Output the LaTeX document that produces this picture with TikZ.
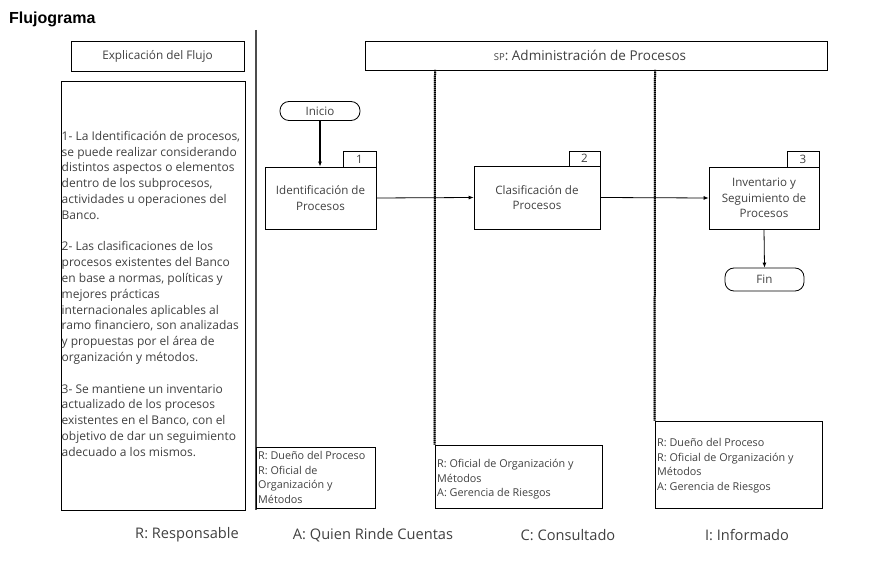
\documentclass[tikz,border=0pt]{standalone}
\usepackage{fontspec}
\setmainfont{Open Sans}
\newfontfamily\titlefont{Liberation Sans}
\usetikzlibrary{arrows.meta}
\definecolor{txt}{HTML}{404040}
\begin{document}
\begin{tikzpicture}[x=1pt,y=-1pt,
  box/.style={draw=black, line width=0.8pt, rectangle, inner sep=0pt, text=txt},
  procbox/.style={box, align=center, font=\fontsize{11.6}{15.5}\selectfont},
  numbox/.style={box, font=\fontsize{11.6}{12}\selectfont},
  term/.style={draw=black, line width=0.8pt, rounded corners=9pt, inner sep=0pt, text=txt, font=\fontsize{11.6}{12}\selectfont},
  lanetxt/.style={anchor=north west, inner sep=0pt, align=left, text=txt, font=\fontsize{10.8}{14.6}\selectfont},
  legend/.style={text=txt, font=\fontsize{14.6}{16}\selectfont, inner sep=0pt},
  flow/.style={draw=black, line width=0.8pt, -{Latex[length=5pt,width=4pt]}},
  laneunder/.style={draw=black!55, line width=2pt},
  lanedot/.style={draw=black, line width=2pt, dash pattern=on 1pt off 1pt}
]
\useasboundingbox (0,0) rectangle (878,569);

\node[anchor=west, inner sep=0pt, font=\titlefont\bfseries\fontsize{16}{18}\selectfont] (title) at (9,19) {Flujograma};

% left explanation
\node[box, minimum width=173, minimum height=30, font=\fontsize{11.8}{13}\selectfont] (expl) at (157.5,56) {Explicación del Flujo};
\node[box, minimum width=184, minimum height=429] (desc) at (153,295.5) {};
\node[anchor=north west, inner sep=0pt, align=left, text=txt, font=\fontsize{12}{15.8}\selectfont] (desctxt) at (61.5,131) {%
1- La Identificación de procesos,\\
se puede realizar considerando\\
distintos aspectos o elementos\\
dentro de los subprocesos,\\
actividades u operaciones del\\
Banco.\\[15.8pt]
2- Las clasificaciones de los\\
procesos existentes del Banco\\
en base a normas, políticas y\\
mejores prácticas\\
internacionales aplicables al\\
ramo financiero, son analizadas\\
y propuestas por el área de\\
organización y métodos.\\[15.8pt]
3- Se mantiene un inventario\\
actualizado de los procesos\\
existentes en el Banco, con el\\
objetivo de dar un seguimiento\\
adecuado a los mismos.};

% swimlane frame
\coordinate (l0t) at (256,30);
\coordinate (l0b) at (256,510);
\draw[draw=black!70, line width=1.6pt] (l0t) -- (l0b);
\node[box, minimum width=462, minimum height=29] (sp) at (596,55.5) {};
\node[inner sep=0pt, text=txt, font=\fontsize{13.5}{15}\selectfont] (sptxt) at (590,55) {{\fontsize{9.5}{10}\selectfont SP}: Administración de Procesos};

% lane boxes
\node[box, minimum width=119, minimum height=61] (r1) at (315.5,477.5) {};
\node[box, minimum width=167, minimum height=63] (r2) at (518.5,476.5) {};
\node[box, minimum width=167, minimum height=87] (r3) at (738.5,464.5) {};

\coordinate (d1) at (435,70);
\coordinate (d2) at (655,70);
\draw[laneunder] (d1) -- (r2.north west);
\draw[laneunder] (d2) -- (r3.north west);
\draw[lanedot] (d1) -- (r2.north west);
\draw[lanedot] (d2) -- (r3.north west);

\node[lanetxt] (r1t) at (258,451) {R: Dueño del Proceso\\R: Oficial de\\Organización y\\Métodos};
\node[lanetxt] (r2t) at (437,459) {R: Oficial de Organización y\\Métodos\\A: Gerencia de Riesgos};
\node[lanetxt] (r3t) at (657,438) {R: Dueño del Proceso\\R: Oficial de Organización y\\Métodos\\A: Gerencia de Riesgos};

% process
\node[term, minimum width=80, minimum height=19] (inicio) at (320,111) {Inicio};
\node[procbox, minimum width=111, minimum height=62] (p1) at (320.5,198) {Identificación de\\Procesos};
\node[numbox, minimum width=33, minimum height=16] (n1) at (359.5,159) {1};
\node[procbox, minimum width=126, minimum height=63] (p2) at (537,197.5) {Clasificación de\\Procesos};
\node[numbox, minimum width=31, minimum height=15] (n2) at (584.5,158.5) {2};
\node[procbox, minimum width=110, minimum height=62] (p3) at (764,198) {Inventario y\\Seguimiento de\\Procesos};
\node[numbox, minimum width=32, minimum height=16] (n3) at (803,159) {3};
\node[term, minimum width=79, minimum height=23] (fin) at (764.5,279.5) {Fin};

\draw[flow, line width=1.6pt] (inicio) -- (inicio |- p1.north);
\draw[flow] (p1.east) -- (p2.west);
\draw[flow] (p2.east) -- (p3.west);
\draw[flow] (p3.south) -- (fin.north);

% legend
\node[legend] (lr) at (187,535) {R: Responsable};
\node[legend] (la) at (373,535) {A: Quien Rinde Cuentas};
\node[legend] (lc) at (568,535) {C: Consultado};
\node[legend] (li) at (747,535) {I: Informado};
\end{tikzpicture}
\end{document}
